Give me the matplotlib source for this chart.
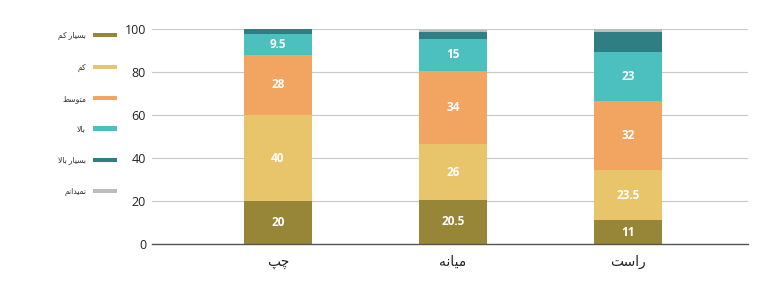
import matplotlib
matplotlib.use("Agg")
import matplotlib.pyplot as plt
import numpy as np

# === DATA ===
groups = ["چپ", "میانه", "راست"]
levels = ["بسیار کم", "کم", "متوسط", "بالا", "بسیار بالا", "نمیدانم"]
very_low = [20, 20.5, 11]
low = [40, 26, 23.5]
medium = [28, 34, 32]
high = [9.5, 15, 23]
very_high = [2.5, 3, 9]
dont_know = [0, 1, 1.5]
shown_labels = [True, True, True, True, False, False]
colors = ["#978538", "#E8C46B", "#F2A461", "#4CBFBF", "#2F7E83", "#BDBDBD"]

# === minimal Persian shaping (matplotlib has no complex text layout) ===
FORMS = {  # iso, fin, ini, med
    "ب": "\uFE8F\uFE90\uFE91\uFE92", "س": "\uFEB1\uFEB2\uFEB3\uFEB4",
    "ی": "\uFEEF\uFEF0\uFEF3\uFEF4", "ا": "\uFE8D\uFE8E\uFE8D\uFE8E",
    "ر": "\uFEAD\uFEAE\uFEAD\uFEAE", "ک": "\uFED9\uFEDA\uFEDB\uFEDC",
    "م": "\uFEE1\uFEE2\uFEE3\uFEE4", "ت": "\uFE95\uFE96\uFE97\uFE98",
    "و": "\uFEED\uFEEE\uFEED\uFEEE", "ط": "\uFEC1\uFEC2\uFEC3\uFEC4",
    "ل": "\uFEDD\uFEDE\uFEDF\uFEE0", "ن": "\uFEE5\uFEE6\uFEE7\uFEE8",
    "د": "\uFEA9\uFEAA\uFEA9\uFEAA", "ه": "\uFEE9\uFEEA\uFEEB\uFEEC",
    "چ": "\uFB7A\uFB7B\uFB7C\uFB7D", "پ": "\uFB56\uFB57\uFB58\uFB59",
}
NON_JOIN_LEFT = set("اردو")


def shape(word):
    out = []
    chars = list(word)
    i = 0
    while i < len(chars):
        c = chars[i]
        if c not in FORMS:
            out.append(c)
            i += 1
            continue
        prev = chars[i - 1] if i > 0 else " "
        joins_prev = prev in FORMS and prev not in NON_JOIN_LEFT
        # lam-alef ligature
        if c == "ل" and i + 1 < len(chars) and chars[i + 1] == "ا":
            out.append("\uFEFC" if joins_prev else "\uFEFB")
            i += 2
            continue
        nxt = chars[i + 1] if i + 1 < len(chars) else " "
        joins_next = c not in NON_JOIN_LEFT and nxt in FORMS
        f = FORMS[c]
        if joins_prev and joins_next:
            out.append(f[3])
        elif joins_prev:
            out.append(f[1])
        elif joins_next:
            out.append(f[2])
        else:
            out.append(f[0])
        i += 1
    return "".join(out)[::-1]


plt.rcParams["font.family"] = ["Open Sans", "DejaVu Sans"]

series = [very_low, low, medium, high, very_high, dont_know]
x = np.arange(len(groups))

fig = plt.figure(figsize=(7.62, 2.94), dpi=100)
ax = fig.add_axes([0.199, 0.170, 0.783, 0.731])

bottom = np.zeros(len(groups))
handles = []
for vals, col, lab, show in zip(series, colors, levels, shown_labels):
    vals = np.array(vals, dtype=float)
    bars = ax.bar(x, vals, 0.39, bottom=bottom, color=col, zorder=3, label=shape(lab))
    handles.append(bars)
    if show:
        for xi, b, v in zip(x, bottom, vals):
            txt = f"{v:g}"
            ax.text(xi, b + v / 2, txt, ha="center", va="center", color="white",
                    fontsize=8.5, fontweight="bold", zorder=4)
    bottom += vals

ax.set_ylim(0, 100)
ax.set_xlim(-0.72, 2.686)
ax.set_yticks(range(0, 101, 20))
ax.yaxis.grid(True, color="#C8C8C8", linewidth=0.8, zorder=0)
ax.set_xticks(x)
ax.set_xticklabels([shape(g) for g in groups], fontsize=10, color="#222222")
ax.tick_params(axis="both", length=0, labelsize=9, colors="#222222")
ax.tick_params(axis="x", pad=8, labelsize=10)
ax.tick_params(axis="y", pad=4)
for s in ["top", "right", "left"]:
    ax.spines[s].set_visible(False)
ax.spines["bottom"].set_color("#555555")
ax.spines["bottom"].set_linewidth(1.0)
ax.spines["bottom"].set_zorder(5)

leg = fig.legend(handles=handles, loc="upper right", bbox_to_anchor=(117 / 762, 1 - 32 / 294),
                 frameon=False, markerfirst=False, fontsize=5.5, handlelength=3.15,
                 handleheight=0.45, handletextpad=0.9, labelspacing=3.05,
                 borderpad=0, borderaxespad=0)
for t in leg.get_texts():
    t.set_color("#333333")

plt.savefig("out.png", dpi=100)
